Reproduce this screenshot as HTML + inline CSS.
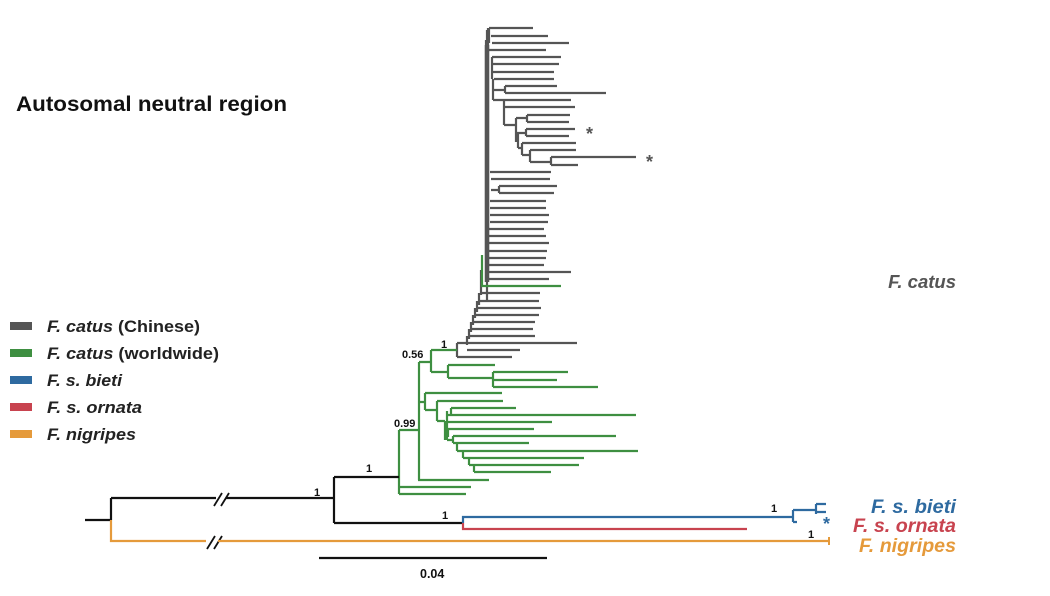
<!DOCTYPE html>
<html><head><meta charset="utf-8"><style>
body{margin:0;background:#fff;}
svg{display:block;font-family:"Liberation Sans",Arial,sans-serif;}
</style></head><body>
<svg width="1050" height="596" viewBox="0 0 1050 596" xmlns="http://www.w3.org/2000/svg">
<rect width="1050" height="596" fill="#fff"/>
<text x="16" y="111" font-size="21.5" font-weight="bold" fill="#111" textLength="271" lengthAdjust="spacingAndGlyphs">Autosomal neutral region</text>
<!-- legend -->
<g font-size="17" font-weight="bold" fill="#222">
<rect x="10" y="322" width="22" height="8" fill="#555"/>
<text x="47" y="332" textLength="153" lengthAdjust="spacingAndGlyphs"><tspan font-style="italic">F. catus</tspan> (Chinese)</text>
<rect x="10" y="349" width="22" height="8" fill="#3e8f41"/>
<text x="47" y="359" textLength="172" lengthAdjust="spacingAndGlyphs"><tspan font-style="italic">F. catus</tspan> (worldwide)</text>
<rect x="10" y="376" width="22" height="8" fill="#2e6aa0"/>
<text x="47" y="386" font-style="italic" textLength="75" lengthAdjust="spacingAndGlyphs">F. s. bieti</text>
<rect x="10" y="403" width="22" height="8" fill="#c8434f"/>
<text x="47" y="413" font-style="italic" textLength="95" lengthAdjust="spacingAndGlyphs">F. s. ornata</text>
<rect x="10" y="430" width="22" height="8" fill="#e59a3b"/>
<text x="47" y="440" font-style="italic" textLength="89" lengthAdjust="spacingAndGlyphs">F. nigripes</text>
</g>
<text x="956" y="288" text-anchor="end" font-size="18.5" font-weight="bold" font-style="italic" fill="#555">F. catus</text>
<text x="956" y="513" text-anchor="end" font-size="19" font-weight="bold" font-style="italic" fill="#2e6aa0" textLength="85" lengthAdjust="spacingAndGlyphs">F. s. bieti</text>
<text x="956" y="532" text-anchor="end" font-size="19" font-weight="bold" font-style="italic" fill="#c8434f" textLength="103" lengthAdjust="spacingAndGlyphs">F. s. ornata</text>
<text x="956" y="552" text-anchor="end" font-size="19" font-weight="bold" font-style="italic" fill="#e59a3b" textLength="97" lengthAdjust="spacingAndGlyphs">F. nigripes</text>

<!-- gray clade -->
<g stroke="#555" stroke-width="2.2" fill="none">
<path d="M487 30V300 M486 40V260 M488 28V270"/>
<path stroke-width="4.5" d="M487 45V282"/>
<path d="M489 28H533 M489 28V43 M491 36H548 M492 43H569 M487 50H546
M492 57H561 M493 64H559 M493 72H554 M494 79H554 M492 57V79 M493 79V100
M505 86H557 M505 93H606 M505 86V93 M493 90H505
M504 100H571 M504 107H575 M504 100V125 M493 100H504 M504 125H516
M516 118V142 M527 115H570 M527 122H569 M527 115V122 M516 118H527
M526 129H575 M526 136H569 M526 129V136 M518 133H526 M518 133V148 M516 133H518
M522 143H576 M522 143V155 M518 148H522 M530 150H576 M530 150V162 M522 155H530
M551 157H636 M551 165H578 M551 157V165 M530 162H551
M490 172H551 M491 179H550 M499 186H557 M499 193H554 M499 186V193 M491 190H499
M490 201H546 M490 208H546 M490 215H549 M490 222H548 M489 229H544 M488 236H546
M488 243H549 M488 251H547 M488 258H546 M487 265H544 M487 272H571 M488 279H549
M481 293H540 M480 301H539 M478 308H541 M476 315H539 M474 322H535 M472 329H533 M470 336H535 M467 343H577
M481 270V295 M479 293V305 M477 301V312 M475 308V318 M473 315V325 M471 322V332 M469 329V339 M467 336V345
M457 343V357 M457 343H467 M467 350H520 M457 357H512"/>
</g>
<!-- green clade -->
<g stroke="#3e8f41" stroke-width="2.2" fill="none">
<path d="M482 255V287 M482 286H561"/>
<path d="M431 350H457 M431 350V372 M431 372H448 M448 365V378 M448 365H495 M448 378H493 M493 372V387 M493 372H568 M493 380H557 M493 387H598"/>
<path d="M419 362V480 M419 362H431 M419 402H425 M425 393V410 M425 393H502 M425 410H437 M437 401V421 M437 401H503 M437 421H445
M445 421V440 M451 408H516 M451 415H636 M451 408V415 M447 415H451 M447 422H552 M447 411V440 M448 429H534 M448 429V437
M453 436H616 M453 436V443 M457 443H529 M457 443V451 M463 451H638 M463 451V458 M469 458H584 M469 458V465 M474 465H579 M474 465V472 M474 472H551
M447 440H453 M453 443H457 M457 451H463 M463 458H469 M469 465H474
M418 480H489 M399 430V494 M399 430H419 M399 487H471 M399 494H466"/>
</g>
<!-- black backbone -->
<g stroke="#111" stroke-width="2.2" fill="none">
<path d="M85 520H111 M111 498V520 M111 498H216 M226 498H334 M334 477V523 M334 477H399 M334 523H463"/>
<path d="M214 506L222 493 M221 506L229 493 M207 549L215 536 M214 549L222 536" stroke-width="1.8"/>
<path d="M319 558H547" stroke-width="2.2"/>
</g>
<path d="M111 520V541H206 M218 541H829" stroke="#e59a3b" stroke-width="2.2" fill="none"/>
<path d="M829 537V545" stroke="#e59a3b" stroke-width="2"/>
<path d="M463 523V529H747" stroke="#c8434f" stroke-width="2.2" fill="none"/>
<path d="M463 523V517H793 M793 510V522 M793 510H816 M816 504V514 M816 504H826 M816 512H826 M793 522H797" stroke="#2e6aa0" stroke-width="2.2" fill="none"/>
<g font-size="11" font-weight="bold" fill="#111">
<text x="441" y="348">1</text>
<text x="402" y="358">0.56</text>
<text x="394" y="427">0.99</text>
<text x="366" y="472">1</text>
<text x="314" y="496">1</text>
<text x="442" y="519">1</text>
<text x="771" y="512">1</text>
<text x="808" y="538">1</text>
<text x="420" y="578" font-size="12.5">0.04</text>
</g>
<g font-size="18" font-weight="bold">
<text x="586" y="140" fill="#555">*</text>
<text x="646" y="168" fill="#555">*</text>
<text x="823" y="530" fill="#2e6aa0">*</text>
</g>
</svg>
</body></html>
